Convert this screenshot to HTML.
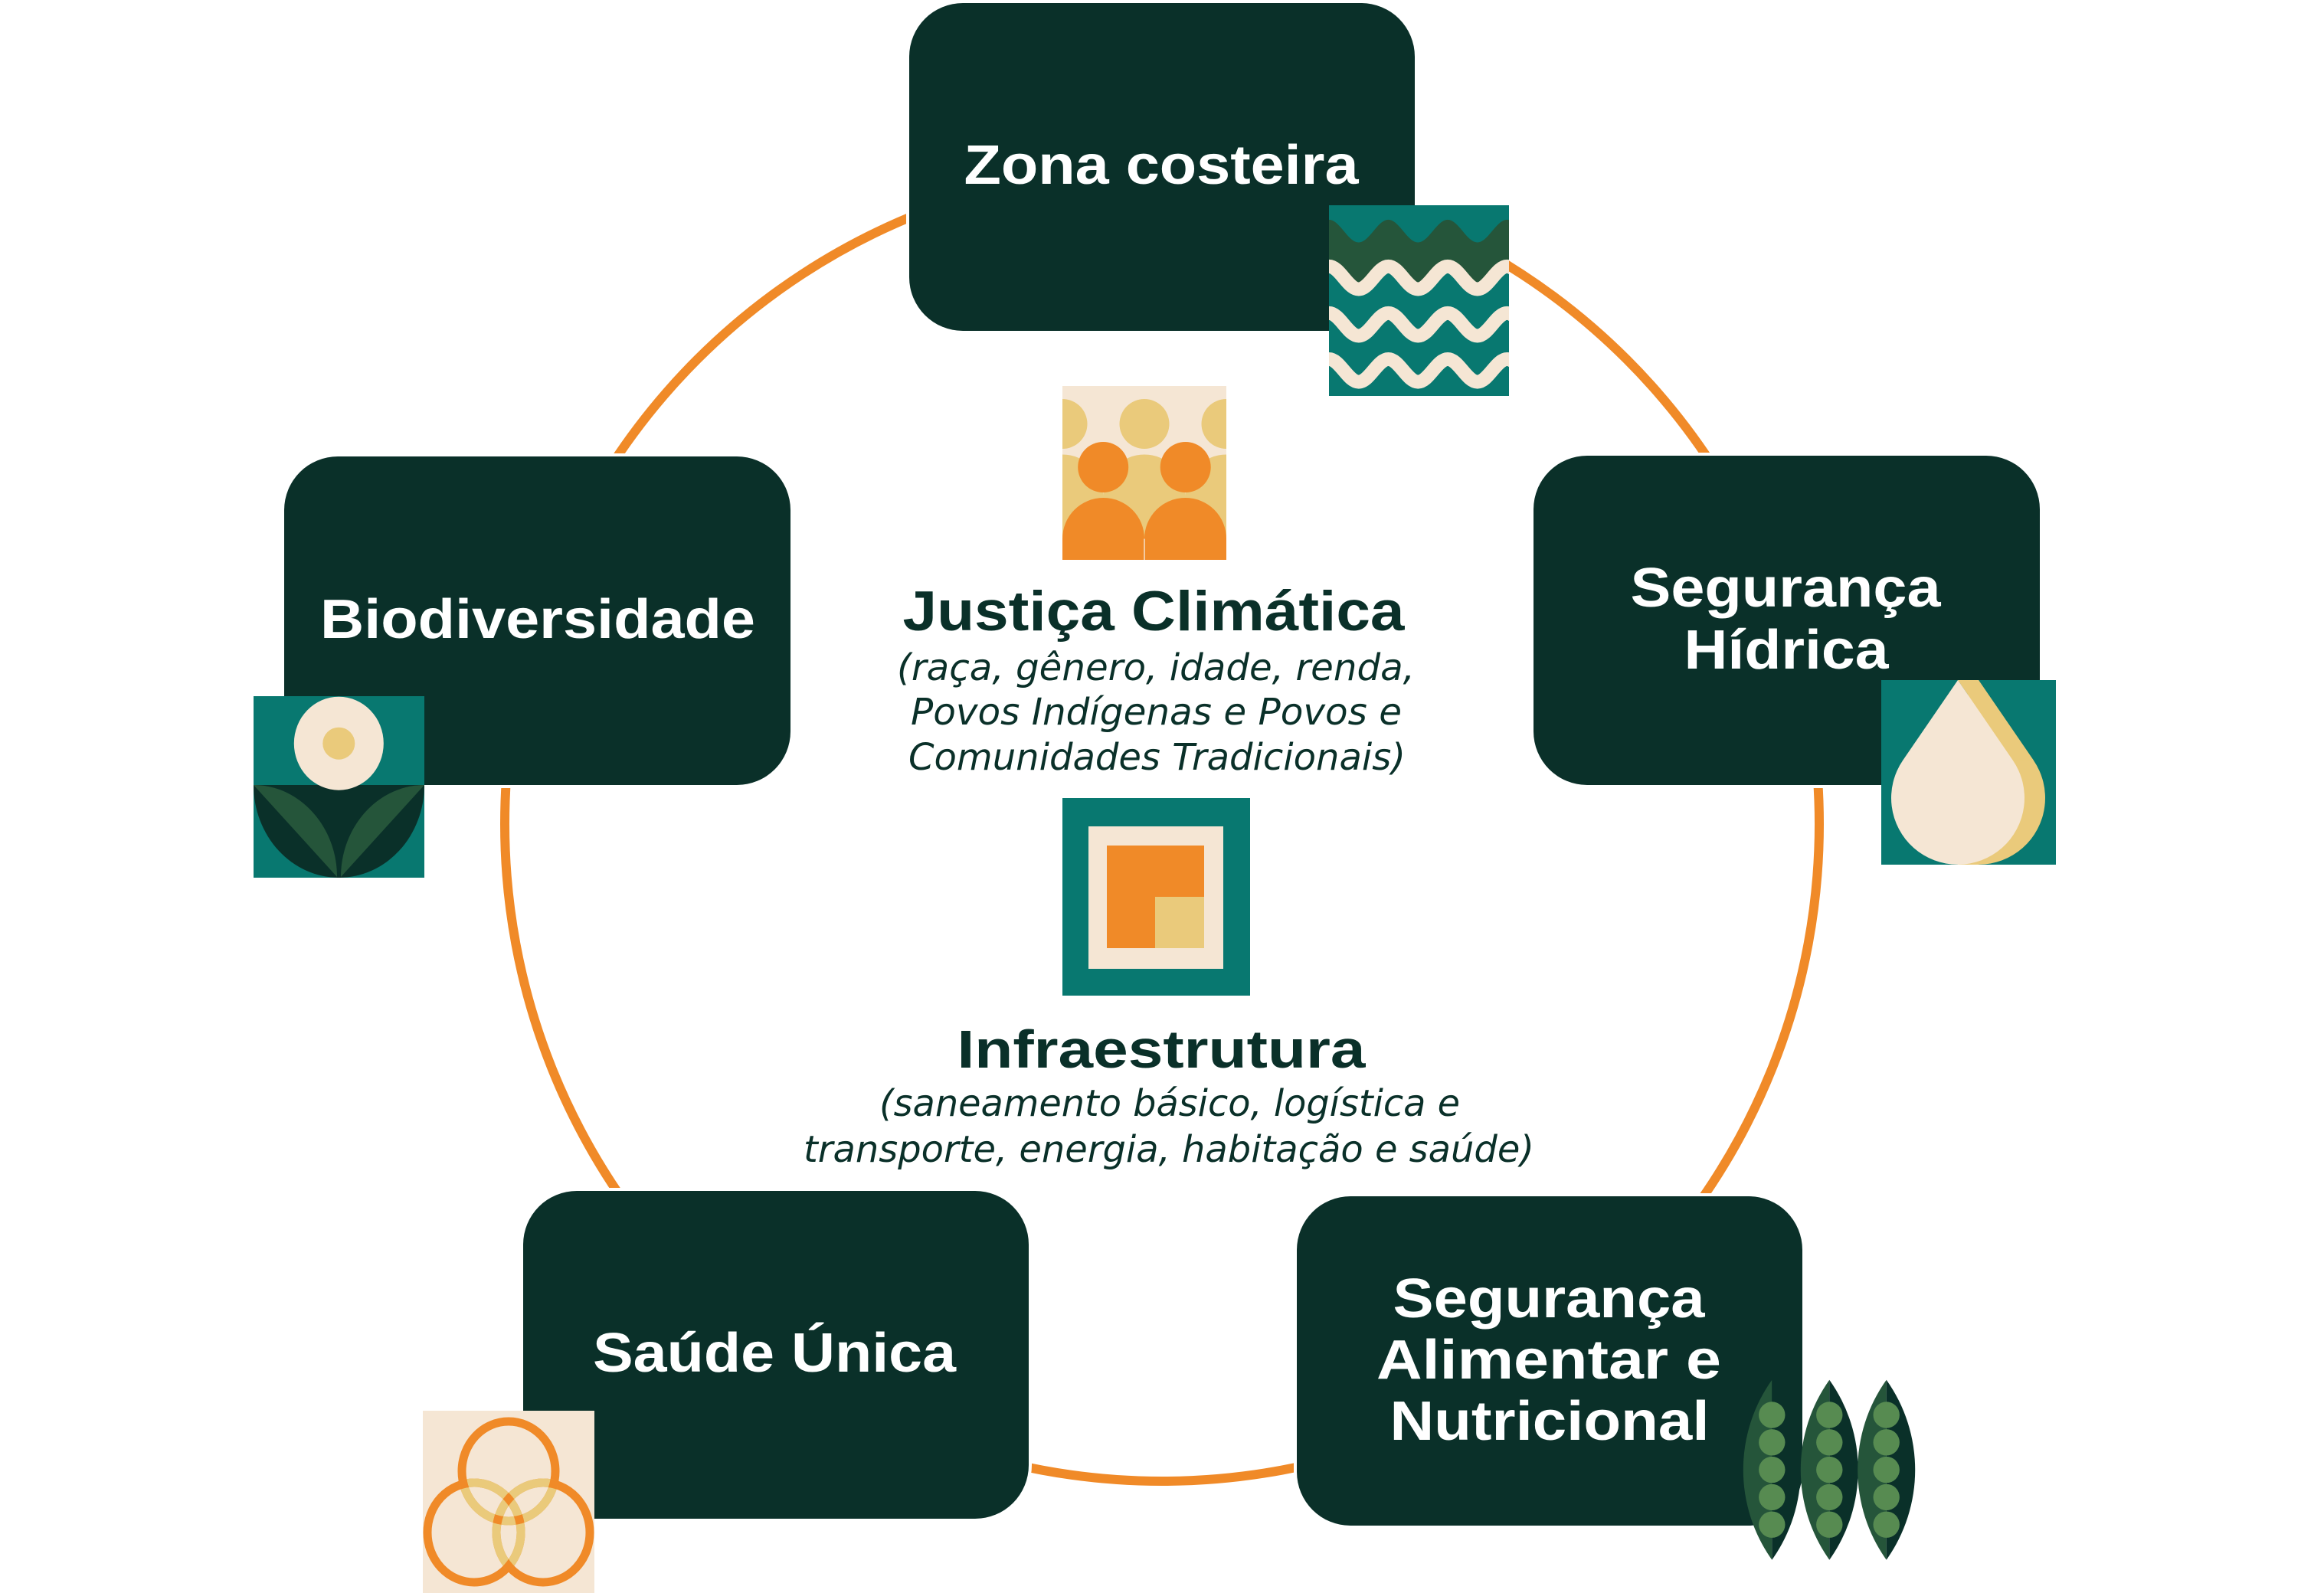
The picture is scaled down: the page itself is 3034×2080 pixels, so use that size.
<!DOCTYPE html>
<html>
<head>
<meta charset="utf-8">
<style>
html,body{margin:0;padding:0;background:#fff;}
svg{display:block;}
</style>
</head>
<body>
<svg xmlns="http://www.w3.org/2000/svg" width="3034" height="2080" viewBox="0 0 3034 2080">
<rect width="3034" height="2080" fill="#ffffff"/>

<!-- orange cycle circle -->
<circle cx="1517" cy="1076" r="858" fill="none" stroke="#f08a28" stroke-width="12"/>

<!-- boxes -->
<g fill="#0a3029" stroke="#ffffff" stroke-width="8">
<rect x="1187" y="4" width="660" height="428" rx="70" ry="70"/>
<rect x="371" y="596" width="661" height="429" rx="70" ry="70"/>
<rect x="2002" y="595" width="661" height="430" rx="70" ry="70"/>
<rect x="683" y="1555" width="660" height="428" rx="70" ry="70"/>
<rect x="1693" y="1562" width="660" height="430" rx="70" ry="70"/>
</g>
<g fill="#0a3029">
<rect x="1187" y="4" width="660" height="428" rx="70" ry="70"/>
<rect x="371" y="596" width="661" height="429" rx="70" ry="70"/>
<rect x="2002" y="595" width="661" height="430" rx="70" ry="70"/>
<rect x="683" y="1555" width="660" height="428" rx="70" ry="70"/>
<rect x="1693" y="1562" width="660" height="430" rx="70" ry="70"/>
</g>

<!-- box labels -->
<g font-family="'Liberation Sans', Arial, sans-serif" font-weight="bold" fill="#ffffff" text-anchor="middle" font-size="72">
<text x="1516" y="240" textLength="515" lengthAdjust="spacingAndGlyphs">Zona costeira</text>
<text x="702" y="833" textLength="568" lengthAdjust="spacingAndGlyphs">Biodiversidade</text>
<text x="2331" y="792" textLength="405" lengthAdjust="spacingAndGlyphs">Segurança</text>
<text x="2332" y="873" textLength="267" lengthAdjust="spacingAndGlyphs">Hídrica</text>
<text x="1011" y="1791" textLength="474" lengthAdjust="spacingAndGlyphs">Saúde Única</text>
<text x="2022" y="1720" textLength="407" lengthAdjust="spacingAndGlyphs">Segurança</text>
<text x="2022" y="1800" textLength="450" lengthAdjust="spacingAndGlyphs">Alimentar e</text>
<text x="2023" y="1880" textLength="417" lengthAdjust="spacingAndGlyphs">Nutricional</text>
</g>

<!-- center titles -->
<g font-family="'Liberation Sans', Arial, sans-serif" font-weight="bold" fill="#0a3029" text-anchor="middle">
<text x="1506" y="823" font-size="73" textLength="655" lengthAdjust="spacingAndGlyphs">Justiça Climática</text>
<text x="1516" y="1394" font-size="70" textLength="533" lengthAdjust="spacingAndGlyphs">Infraestrutura</text>
</g>
<g font-family="'DejaVu Sans', Verdana, sans-serif" font-style="italic" fill="#0a3029" text-anchor="middle" font-size="48">
<text x="1509" y="888" textLength="676" lengthAdjust="spacingAndGlyphs">(raça, gênero, idade, renda,</text>
<text x="1509.5" y="946" textLength="641" lengthAdjust="spacingAndGlyphs">Povos Indígenas e Povos e</text>
<text x="1510.5" y="1005" textLength="649" lengthAdjust="spacingAndGlyphs">Comunidades Tradicionais)</text>
<text x="1527" y="1457" textLength="758" lengthAdjust="spacingAndGlyphs">(saneamento básico, logística e</text>
<text x="1526" y="1517" textLength="954" lengthAdjust="spacingAndGlyphs">transporte, energia, habitação e saúde)</text>
</g>

<!-- waves icon -->
<svg x="1735" y="268" width="235" height="249" viewBox="0 0 235 249">
<rect width="235" height="249" fill="#087870"/>
<path transform="translate(0,33.7)" fill="#25553a" d="M -77.5 -14.8 C -63.42 -14.8 -52.83 14.8 -38.75 14.8 S -14.08 -14.8 0 -14.8 S 24.67 14.8 38.75 14.8 S 63.42 -14.8 77.5 -14.8 S 102.17 14.8 116.25 14.8 S 140.92 -14.8 155 -14.8 S 179.67 14.8 193.75 14.8 S 218.42 -14.8 232.5 -14.8 S 257.17 14.8 271.25 14.8 S 295.92 -14.8 310 -14.8 L 310 400 L -77.5 400 Z"/>
<path transform="translate(0,94.7)" fill="#087870" d="M -77.5 -14.8 C -63.42 -14.8 -52.83 14.8 -38.75 14.8 S -14.08 -14.8 0 -14.8 S 24.67 14.8 38.75 14.8 S 63.42 -14.8 77.5 -14.8 S 102.17 14.8 116.25 14.8 S 140.92 -14.8 155 -14.8 S 179.67 14.8 193.75 14.8 S 218.42 -14.8 232.5 -14.8 S 257.17 14.8 271.25 14.8 S 295.92 -14.8 310 -14.8 L 310 400 L -77.5 400 Z"/>
<g fill="none" stroke="#f5e6d4" stroke-width="18">
<path transform="translate(0,94.7)" d="M -77.5 -14.8 C -63.42 -14.8 -52.83 14.8 -38.75 14.8 S -14.08 -14.8 0 -14.8 S 24.67 14.8 38.75 14.8 S 63.42 -14.8 77.5 -14.8 S 102.17 14.8 116.25 14.8 S 140.92 -14.8 155 -14.8 S 179.67 14.8 193.75 14.8 S 218.42 -14.8 232.5 -14.8 S 257.17 14.8 271.25 14.8 S 295.92 -14.8 310 -14.8"/>
<path transform="translate(0,155.7)" d="M -77.5 -14.8 C -63.42 -14.8 -52.83 14.8 -38.75 14.8 S -14.08 -14.8 0 -14.8 S 24.67 14.8 38.75 14.8 S 63.42 -14.8 77.5 -14.8 S 102.17 14.8 116.25 14.8 S 140.92 -14.8 155 -14.8 S 179.67 14.8 193.75 14.8 S 218.42 -14.8 232.5 -14.8 S 257.17 14.8 271.25 14.8 S 295.92 -14.8 310 -14.8"/>
<path transform="translate(0,215.8)" d="M -77.5 -14.8 C -63.42 -14.8 -52.83 14.8 -38.75 14.8 S -14.08 -14.8 0 -14.8 S 24.67 14.8 38.75 14.8 S 63.42 -14.8 77.5 -14.8 S 102.17 14.8 116.25 14.8 S 140.92 -14.8 155 -14.8 S 179.67 14.8 193.75 14.8 S 218.42 -14.8 232.5 -14.8 S 257.17 14.8 271.25 14.8 S 295.92 -14.8 310 -14.8"/>
</g>
</svg>

<!-- flower icon -->
<svg x="331" y="909" width="223" height="237" viewBox="0 0 223 237">
<rect width="223" height="237" fill="#087870"/>
<path d="M 0 116 A 111.5 121 0 0 0 223 116 Z" fill="#0a3029"/>
<path d="M 0 116 C 60 116 109 170 109 236 Z" fill="#25553a"/>
<path d="M 223 116 C 163 116 114 170 114 236 Z" fill="#25553a"/>
<rect x="109" y="118" width="5" height="119" fill="#0a3029"/>
<ellipse cx="111.3" cy="61.7" rx="58.5" ry="61" fill="#f5e6d4"/>
<circle cx="111.3" cy="61.7" r="21" fill="#eaca7b"/>
</svg>

<!-- droplet icon -->
<svg x="2456" y="888" width="228" height="241" viewBox="0 0 228 241">
<rect width="228" height="241" fill="#087870"/>
<g fill="#eaca7b">
<path d="M 127 0 L 55.2 104.8 A 87 87 0 1 0 198.8 104.8 Z"/>
<path d="M 100 0 L 127 0 L 198.8 104.8 L 171.8 104.8 Z"/>
<rect x="100" y="154" width="27" height="87"/>
</g>
<path d="M 100 0 L 28.2 104.8 A 87 87 0 1 0 171.8 104.8 Z" fill="#f5e6d4"/>
</svg>

<!-- three circles icon -->
<svg x="552" y="1842" width="224" height="238" viewBox="0 0 224 238">
<defs>
<clipPath id="cLR"><ellipse cx="67" cy="159" rx="61" ry="65"/><ellipse cx="157" cy="159" rx="61" ry="65"/></clipPath>
<clipPath id="cTR"><ellipse cx="112" cy="79" rx="61" ry="65"/><ellipse cx="157" cy="159" rx="61" ry="65"/></clipPath>
<clipPath id="cTL"><ellipse cx="112" cy="79" rx="61" ry="65"/><ellipse cx="67" cy="159" rx="61" ry="65"/></clipPath>
<clipPath id="aLR">
<path clip-rule="evenodd" d="M0.5 159 a66.5 70.5 0 1 0 133 0 a66.5 70.5 0 1 0 -133 0Z M11.5 159 a55.5 59.5 0 1 0 111 0 a55.5 59.5 0 1 0 -111 0Z"/>
<path clip-rule="evenodd" d="M90.5 159 a66.5 70.5 0 1 0 133 0 a66.5 70.5 0 1 0 -133 0Z M101.5 159 a55.5 59.5 0 1 0 111 0 a55.5 59.5 0 1 0 -111 0Z"/>
</clipPath>
<clipPath id="aTR">
<path clip-rule="evenodd" d="M45.5 79 a66.5 70.5 0 1 0 133 0 a66.5 70.5 0 1 0 -133 0Z M56.5 79 a55.5 59.5 0 1 0 111 0 a55.5 59.5 0 1 0 -111 0Z"/>
<path clip-rule="evenodd" d="M90.5 159 a66.5 70.5 0 1 0 133 0 a66.5 70.5 0 1 0 -133 0Z M101.5 159 a55.5 59.5 0 1 0 111 0 a55.5 59.5 0 1 0 -111 0Z"/>
</clipPath>
<clipPath id="aTL">
<path clip-rule="evenodd" d="M45.5 79 a66.5 70.5 0 1 0 133 0 a66.5 70.5 0 1 0 -133 0Z M56.5 79 a55.5 59.5 0 1 0 111 0 a55.5 59.5 0 1 0 -111 0Z"/>
<path clip-rule="evenodd" d="M0.5 159 a66.5 70.5 0 1 0 133 0 a66.5 70.5 0 1 0 -133 0Z M11.5 159 a55.5 59.5 0 1 0 111 0 a55.5 59.5 0 1 0 -111 0Z"/>
</clipPath>
</defs>
<rect width="224" height="238" fill="#f5e6d4"/>
<g fill="none" stroke-width="11">
<ellipse cx="112" cy="79" rx="61" ry="65" stroke="#f08a28"/>
<ellipse cx="67" cy="159" rx="61" ry="65" stroke="#f08a28"/>
<ellipse cx="157" cy="159" rx="61" ry="65" stroke="#f08a28"/>
<ellipse cx="112" cy="79" rx="61" ry="65" stroke="#eaca7b" clip-path="url(#cLR)"/>
<ellipse cx="67" cy="159" rx="61" ry="65" stroke="#eaca7b" clip-path="url(#cTR)"/>
<ellipse cx="157" cy="159" rx="61" ry="65" stroke="#eaca7b" clip-path="url(#cTL)"/>
<ellipse cx="112" cy="79" rx="61" ry="65" stroke="#f08a28" clip-path="url(#aLR)"/>
<ellipse cx="67" cy="159" rx="61" ry="65" stroke="#f08a28" clip-path="url(#aTR)"/>
<ellipse cx="157" cy="159" rx="61" ry="65" stroke="#f08a28" clip-path="url(#aTL)"/>
</g>
</svg>

<!-- peas -->
<g>
<path d="M2313.3 1801.7 A202.8 202.8 0 0 0 2313.3 2036.7Z" fill="#25553a"/>
<path d="M2313.3 1801.7 A202.8 202.8 0 0 1 2313.3 2036.7Z" fill="#0a3029"/>
<g fill="#578b51">
<circle cx="2313.3" cy="1847.5" r="17.2"/><circle cx="2313.3" cy="1883.3" r="17.2"/><circle cx="2313.3" cy="1919.1" r="17.2"/><circle cx="2313.3" cy="1954.9" r="17.2"/><circle cx="2313.3" cy="1990.7" r="17.2"/>
</g>
<path d="M2388.3 1801.7 A202.8 202.8 0 0 0 2388.3 2036.7Z" fill="#25553a"/>
<path d="M2388.3 1801.7 A202.8 202.8 0 0 1 2388.3 2036.7Z" fill="#0a3029"/>
<g fill="#578b51">
<circle cx="2388.3" cy="1847.5" r="17.2"/><circle cx="2388.3" cy="1883.3" r="17.2"/><circle cx="2388.3" cy="1919.1" r="17.2"/><circle cx="2388.3" cy="1954.9" r="17.2"/><circle cx="2388.3" cy="1990.7" r="17.2"/>
</g>
<path d="M2462.7 1801.7 A202.8 202.8 0 0 0 2462.7 2036.7Z" fill="#25553a"/>
<path d="M2462.7 1801.7 A202.8 202.8 0 0 1 2462.7 2036.7Z" fill="#0a3029"/>
<g fill="#578b51">
<circle cx="2462.7" cy="1847.5" r="17.2"/><circle cx="2462.7" cy="1883.3" r="17.2"/><circle cx="2462.7" cy="1919.1" r="17.2"/><circle cx="2462.7" cy="1954.9" r="17.2"/><circle cx="2462.7" cy="1990.7" r="17.2"/>
</g>
</g>

<!-- people icon -->
<svg x="1387" y="504" width="214" height="227" viewBox="0 0 214 227">
<rect width="214" height="227" fill="#f5e6d4"/>
<g fill="#eaca7b">
<circle cx="0" cy="49.5" r="32.5"/><circle cx="107" cy="49.5" r="32.5"/><circle cx="214" cy="49.5" r="32.5"/>
<circle cx="0" cy="143" r="53.5"/><circle cx="107" cy="143" r="53.5"/><circle cx="214" cy="143" r="53.5"/>
<rect x="-53.5" y="143" width="321" height="84"/>
</g>
<g fill="#f08a28">
<circle cx="53.2" cy="106" r="33"/><circle cx="160.7" cy="106" r="33"/>
<circle cx="53.5" cy="199.5" r="53.5"/><circle cx="160.5" cy="199.5" r="53.5"/>
<rect x="0" y="199.5" width="214" height="28"/>
</g>
<rect x="106.3" y="199.5" width="1.4" height="28" fill="#f5e6d4"/>
</svg>

<!-- infrastructure icon -->
<svg x="1387" y="1042" width="245" height="258" viewBox="0 0 245 258">
<rect width="245" height="258" fill="#087870"/>
<rect x="34" y="37" width="176" height="186" fill="#f5e6d4"/>
<rect x="58" y="62" width="127" height="134" fill="#f08a28"/>
<rect x="121" y="129" width="64" height="67" fill="#eaca7b"/>
</svg>

</svg>
</body>
</html>
